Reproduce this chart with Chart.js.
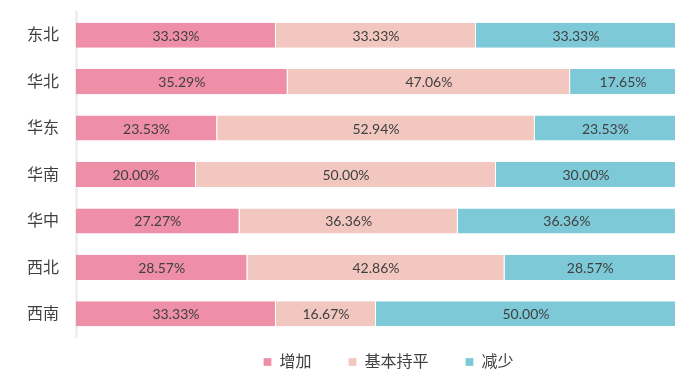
<!DOCTYPE html>
<html>
<head>
<meta charset="utf-8">
<script src="https://cdn.jsdelivr.net/npm/chart.js@4/dist/chart.umd.min.js"></script>
<style>
    html, body { margin: 0; padding: 0; background: #fff; }
    #wrap { width: 690px; height: 376px; position: relative; }
</style>
</head>
<body>
<div id="wrap"><canvas id="regionChart"></canvas></div>
<script>
const regions = ['东北', '华北', '华东', '华南', '华中', '西北', '西南'];
const increase = [33.33, 35.29, 23.53, 20.00, 27.27, 28.57, 33.33];
const flat = [33.33, 47.06, 52.94, 50.00, 36.36, 42.86, 16.67];
const decrease = [33.33, 17.65, 23.53, 30.00, 36.36, 28.57, 50.00];

const fontFamily = 'Lato, "Noto Sans CJK SC", sans-serif';
const legendSpacing = 37;
const legendHeight = 39;

// draws the percent text in the middle of each bar segment
const barLabels = {
    id: 'barLabels',
    afterDatasetsDraw(chart) {
        const ctx = chart.ctx;
        ctx.save();
        ctx.font = '14px ' + fontFamily;
        ctx.fillStyle = '#404040';
        ctx.textAlign = 'center';
        ctx.textBaseline = 'middle';
        chart.data.datasets.forEach((ds, i) => {
            chart.getDatasetMeta(i).data.forEach((bar, j) => {
                const p = bar.getCenterPoint();
                ctx.fillText(ds.data[j].toFixed(2) + '%', p.x, p.y + 1);
            });
        });
        ctx.restore();
    }
};

// legend padding is used both between items and above them,
// so keep the wide gaps between items but a short legend box
const compactLegend = {
    id: 'compactLegend',
    afterInit(chart) {
        const legend = chart.legend;
        const fit = legend.fit.bind(legend);
        legend.fit = function () {
            fit();
            this.height = legendHeight;
        };
    },
    afterLayout(chart) {
        chart.legend.top -= legendSpacing - 17;
        chart.legend.left += 101;
    }
};

function makeSet(label, data, color) {
    return {
        label: label,
        data: data,
        backgroundColor: color,
        borderColor: '#ffffff',
        borderWidth: { left: 0, right: 1, top: 0, bottom: 0 },
        borderSkipped: false,
        categoryPercentage: 1,
        barPercentage: 0.54
    };
}

new Chart('regionChart', {
    type: 'bar',
    data: {
        labels: regions,
        datasets: [
            makeSet('增加', increase, '#EE8FA7'),
            makeSet('基本持平', flat, '#F1C7BF'),
            makeSet('减少', decrease, '#7DC9D7')
        ]
    },
    options: {
        indexAxis: 'y',
        responsive: true,
        maintainAspectRatio: false,
        animation: false,
        layout: {
            padding: { left: 0, right: 14, top: 12, bottom: 0 }
        },
        scales: {
            x: {
                stacked: true,
                min: 0,
                max: 100,
                display: false
            },
            y: {
                stacked: true,
                grid: { display: false },
                border: { display: true, color: '#efefef', width: 3 },
                ticks: {
                    color: '#404040',
                    padding: 9,
                    font: { size: 16, family: fontFamily }
                },
                afterFit(scale) {
                    scale.width = 76;
                    scale.paddingTop = 0;
                    scale.paddingBottom = 0;
                }
            }
        },
        plugins: {
            tooltip: { enabled: false },
            legend: {
                position: 'bottom',
                labels: {
                    boxWidth: 8,
                    boxHeight: 8,
                    padding: legendSpacing,
                    color: '#404040',
                    font: { size: 16, family: fontFamily }
                }
            }
        }
    },
    plugins: [barLabels, compactLegend]
});
</script>
</body>
</html>
